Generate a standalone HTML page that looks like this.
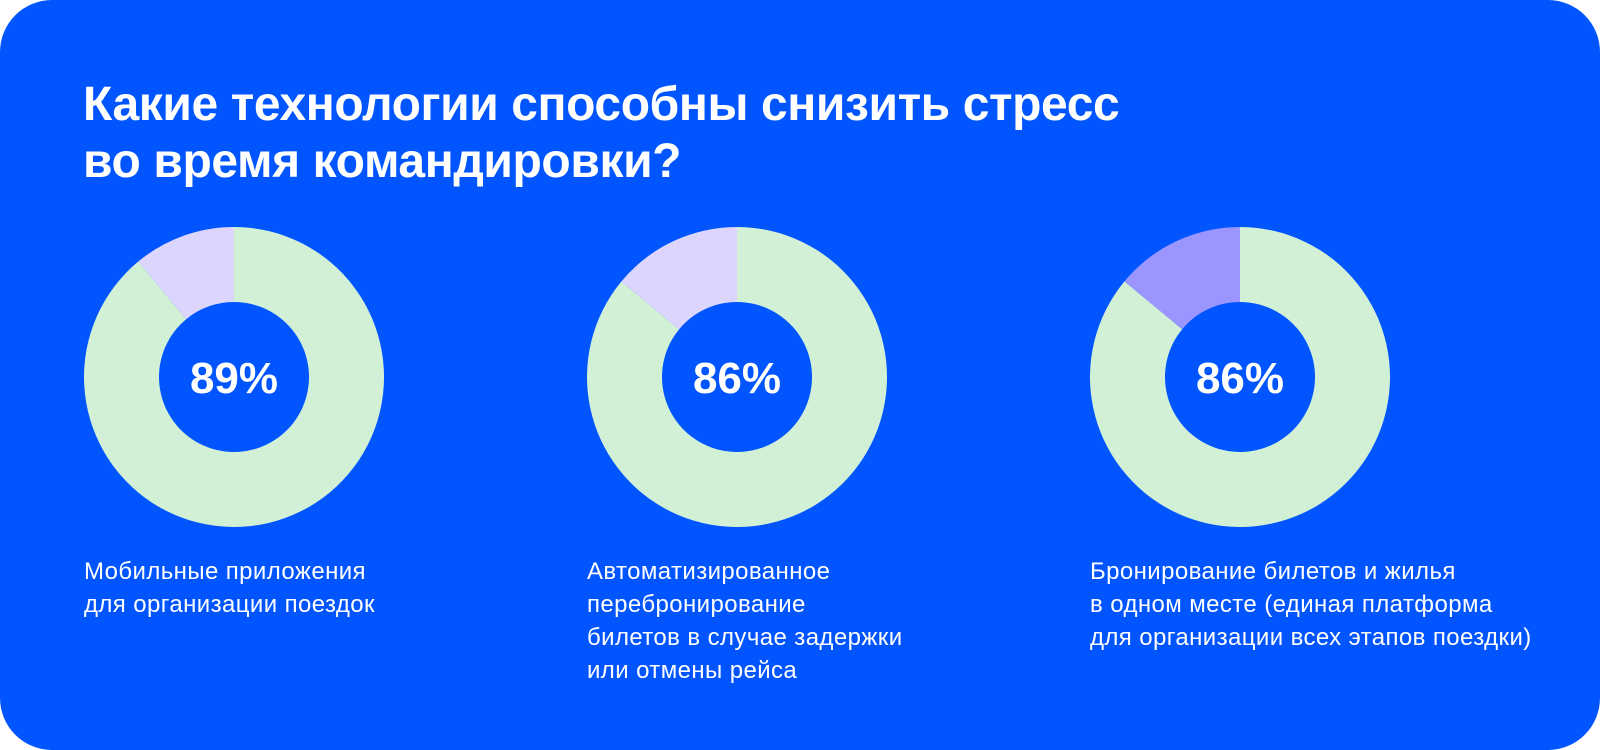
<!DOCTYPE html>
<html><head><meta charset="utf-8"><style>
html,body{margin:0;padding:0;background:#fff;}
#card{position:absolute;left:0;top:0;width:1600px;height:750px;background:#0055FF;border-radius:52px;overflow:hidden;font-family:"Liberation Sans","Noto Sans CJK SC",sans-serif;color:#fff;}
#title{position:absolute;left:83px;top:76px;font-size:48px;font-weight:bold;line-height:57px;margin:0;letter-spacing:-0.4px;}
.lbl{position:absolute;top:555px;font-size:24px;line-height:33px;white-space:nowrap;letter-spacing:0.4px;}
svg{position:absolute;left:0;top:0;}
</style></head><body>
<div id="card">
<h1 id="title">Какие технологии способны снизить стресс<br>во время командировки?</h1>
<svg id="chart" width="1600" height="750"></svg>
<div class="lbl" style="left:84px">Мобильные приложения<br>для организации поездок</div>
<div class="lbl" style="left:587px">Автоматизированное<br>перебронирование<br>билетов в случае задержки<br>или отмены рейса</div>
<div class="lbl" style="left:1090px">Бронирование билетов и жилья<br>в одном месте (единая платформа<br>для организации всех этапов поездки)</div>
</div>
<script>
const categories = ["Мобильные приложения", "Автоматизированное перебронирование", "Единая платформа"];
const values = [89, 86, 86];
const restColors = ["#DCD6FF", "#DCD6FF", "#9A95FF"];
const NS = "http://www.w3.org/2000/svg";
const svg = document.getElementById("chart");
const cx0 = 234, step = 503, cy = 377, R = 150, r = 75;
function pt(frac, rad, cx){ const a = frac*2*Math.PI; return [cx + rad*Math.sin(a), cy - rad*Math.cos(a)]; }
function arc(f0, f1, cx){
  const large = (f1-f0) > 0.5 ? 1 : 0;
  const [x0,y0]=pt(f0,R,cx),[x1,y1]=pt(f1,R,cx),[x2,y2]=pt(f1,r,cx),[x3,y3]=pt(f0,r,cx);
  return `M${x0},${y0} A${R},${R} 0 ${large} 1 ${x1},${y1} L${x2},${y2} A${r},${r} 0 ${large} 0 ${x3},${y3} Z`;
}
values.forEach((v,i)=>{
  const cx = cx0 + i*step, f = v/100;
  const p1 = document.createElementNS(NS,"path");
  p1.setAttribute("d", arc(0, f, cx));
  p1.setAttribute("fill", "#D2F0D5");
  
  
  svg.appendChild(p1);
  const p2 = document.createElementNS(NS,"path");
  p2.setAttribute("d", arc(f, 1, cx));
  p2.setAttribute("fill", restColors[i]);
  
  
  svg.appendChild(p2);
  const t = document.createElementNS(NS,"text");
  t.setAttribute("x", cx); t.setAttribute("y", cy+16);
  t.setAttribute("text-anchor","middle");
  t.setAttribute("font-family","Liberation Sans, sans-serif");
  t.setAttribute("font-weight","bold"); t.setAttribute("font-size","44");
  t.setAttribute("fill","#fff");
  t.textContent = v + "%";
  
  
  svg.appendChild(t);
});
</script>
</body></html>
